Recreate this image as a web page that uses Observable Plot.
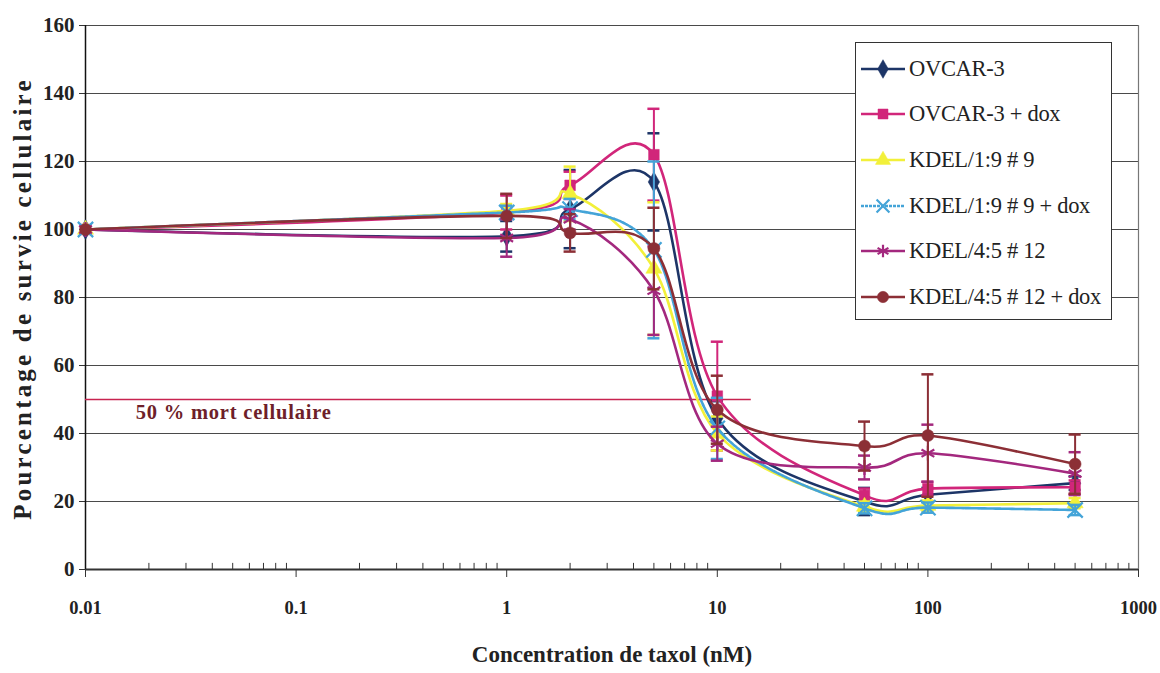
<!DOCTYPE html>
<html>
<head>
<meta charset="utf-8">
<script src="https://cdn.jsdelivr.net/npm/d3@7"></script>
<script src="https://cdn.jsdelivr.net/npm/@observablehq/plot@0.6"></script>
<style>
  html, body { margin: 0; padding: 0; background: #fff; }
  #wrap { position: relative; width: 1160px; height: 673px; }
  #legend { position: absolute; left: 855px; top: 42px; width: 257px; height: 278px; border: 1.5px solid #333; background: #fff; box-sizing: border-box; padding-top: 3px; }
  .row { display: flex; align-items: center; height: 45.6px; white-space: nowrap; }
  .row span { font-family: "Liberation Serif", "Times New Roman", serif !important; font-size: 22.5px; color: #222; letter-spacing: -0.3px; }
  .row svg { margin-left: 5px; margin-right: 4px; flex: none; }
</style>
</head>
<body>
<div id="wrap"><div id="legend"></div></div>
<script>
const conc = [0.01, 1, 2, 5, 10, 50, 100, 500];
const seriesNames = ["OVCAR-3", "OVCAR-3 + dox", "KDEL/1:9 # 9", "KDEL/1:9 # 9 + dox", "KDEL/4:5 # 12", "KDEL/4:5 # 12 + dox"];
const ovcar      = [100, 98,    106,   114,  44.5, 20,   22,   25.4];
const ovcarDox   = [100, 105,   113,   122,  51,   21.8, 23.8, 24.2];
const kdel19     = [100, 105.5, 110.5, 88.5, 40,   18.5, 18.8, 19.5];
const kdel19Dox  = [100, 105,   106,   94,   41.5, 18,   18.2, 17.5];
const kdel45     = [100, 97.5,  103,   82,   37,   30,   34.2, 28.2];
const kdel45Dox  = [100, 104,   99,    94.4, 47,   36.3, 39.4, 31];
const ovcarErr     = [0, 4.5, 11.5, 14.3, 5,  4,   2,   2];
const ovcarDoxErr  = [0, 5,   4,    13.5, 16, 2,   2,   2];
const kdel19Err    = [0, 2,   8,    19.5, 5,  1.5, 1.5, 1.5];
const kdel19DoxErr = [0, 2,   3,    26,   9,  1.5, 1.5, 1.5];
const kdel45Err    = [0, 5.5, 3,    13,   5,  3.5, 8.4, 6.3];
const kdel45DoxErr = [0, 6.5, 5.5,  12,   10, 7.2, 18,  8.7];
const yTicks = [0, 20, 40, 60, 80, 100, 120, 140, 160];
const xTicks = [0.01, 0.1, 1, 10, 100, 1000];
const threshold = 50;

const values = [ovcar, ovcarDox, kdel19, kdel19Dox, kdel45, kdel45Dox];
const errors = [ovcarErr, ovcarDoxErr, kdel19Err, kdel19DoxErr, kdel45Err, kdel45DoxErr];
const colors = ["#1d3567", "#d1267a", "#f2f03a", "#44a4d8", "#a3287e", "#8c2f36"];
const symbols = ["diamond", "square", "triangle", "times", "asterisk", "circle"];
const d3sym = [d3.symbolDiamond, d3.symbolSquare, d3.symbolTriangle, d3.symbolTimes, d3.symbolAsterisk, d3.symbolCircle];
const filled = [true, true, true, false, false, true];

const table = seriesNames.map((name, i) => conc.map((c, j) => ({
  series: name, x: c, y: values[i][j], e: errors[i][j]
})));

const minor = [];
for (const d of [0.01, 0.1, 1, 10, 100]) for (let k = 2; k <= 9; k++) minor.push(d * k);

const capF = 1.068;
const font = "Liberation Serif";
const marks = [
  Plot.gridY(yTicks.slice(1), {stroke: "#4a4a4a", strokeOpacity: 1, strokeWidth: 1}),
  Plot.ruleX([1000], {y1: 0, y2: 160, stroke: "#777", strokeWidth: 1.2}),
  Plot.ruleX(minor, {y1: 0, y2: 1.8, stroke: "#333", strokeWidth: 1}),
  Plot.axisY({ticks: yTicks, tickSize: 6, tickPadding: 5, fontSize: 21, fontWeight: "bold", fontFamily: font, label: null, stroke: "#333", fill: "#222"}),
  Plot.axisX({ticks: xTicks, tickFormat: d => String(d), tickSize: 8, tickPadding: 23, fontSize: 18.5, fontWeight: "bold", fontFamily: font, label: null, stroke: "#333", fill: "#222"}),
  Plot.ruleY([0], {stroke: "#333", strokeWidth: 2}),
  Plot.ruleX([0.01], {y1: 0, y2: 160, stroke: "#111", strokeWidth: 1.5}),
  Plot.ruleY([threshold], {x1: 0.01, x2: 14.5, stroke: "#c8234f", strokeWidth: 1.5}),
  Plot.text(["50 % mort cellulaire"], {x: 0.0173, y: 46.2, text: d => d, textAnchor: "start", fontSize: 20.5, fontWeight: "bold", fontFamily: font, fill: "#6e1f2a", className: "midtext"}),
  Plot.text(["Concentration de taxol (nM)"], {frameAnchor: "bottom", dy: 92, text: d => d, fontSize: 23, fontWeight: "bold", fontFamily: font, fill: "#222"}),
  Plot.text(["Pourcentage de survie cellulaire"], {frameAnchor: "left", textAnchor: "middle", dx: -63, dy: 1, rotate: -90, text: d => d, fontSize: 25, fontWeight: "bold", fontFamily: font, fill: "#222", className: "ytitle"})
];

seriesNames.forEach((name, i) => {
  const data = table[i];
  const eb = data.filter(d => d.e > 0);
  const col = colors[i];
  marks.push(
    Plot.ruleX(eb, {x: "x", y1: d => d.y - d.e, y2: d => d.y + d.e, stroke: col, strokeWidth: 2}),
    Plot.ruleY(eb, {y: d => d.y + d.e, x1: d => d.x / capF, x2: d => d.x * capF, stroke: col, strokeWidth: 2.5}),
    Plot.ruleY(eb, {y: d => d.y - d.e, x1: d => d.x / capF, x2: d => d.x * capF, stroke: col, strokeWidth: 2.5}),
    Plot.line(data, {x: "x", y: "y", stroke: col, strokeWidth: 2.6, curve: "cardinal", strokeDasharray: i === 3 ? "3,1" : null}),
    Plot.dot(data, {x: "x", y: "y", symbol: () => symbols[i], r: i === 4 || i === 3 ? 7 : 6,
      fill: filled[i] ? col : "none", stroke: col, strokeWidth: filled[i] ? 0.5 : 2.2})
  );
});

const chart = Plot.plot({
  width: 1160, height: 673,
  marginLeft: 85, marginRight: 22, marginTop: 25, marginBottom: 104,
  x: {type: "log", domain: [0.01, 1000]},
  y: {domain: [0, 160]},
  style: {fontFamily: "'Liberation Serif', serif", background: "#fff", overflow: "visible"},
  marks
});
chart.querySelectorAll("text").forEach(t => { t.style.fontFamily = "'Liberation Serif', 'Times New Roman', serif"; });
chart.querySelectorAll(".ytitle text").forEach(t => { t.style.letterSpacing = "3.2px"; });
chart.querySelectorAll(".midtext text").forEach(t => { t.style.letterSpacing = "0.8px"; });
document.getElementById("wrap").prepend(chart);

const legend = document.getElementById("legend");
seriesNames.forEach((name, i) => {
  const row = document.createElement("div");
  row.className = "row";
  const s = d3.create("svg").attr("width", 44).attr("height", 20);
  s.append("line").attr("x1", 0).attr("x2", 44).attr("y1", 10).attr("y2", 10)
    .attr("stroke", colors[i]).attr("stroke-width", 2.6).attr("stroke-dasharray", i === 3 ? "3,1" : null);
  s.append("path").attr("transform", "translate(22,10)")
    .attr("d", d3.symbol(d3sym[i], i === 3 || i === 4 ? 110 : 100)())
    .attr("fill", filled[i] ? colors[i] : "none").attr("stroke", colors[i]).attr("stroke-width", filled[i] ? 0.5 : 2.2);
  row.appendChild(s.node());
  const t = document.createElement("span");
  t.textContent = name;
  row.appendChild(t);
  legend.appendChild(row);
});
</script>
</body>
</html>
